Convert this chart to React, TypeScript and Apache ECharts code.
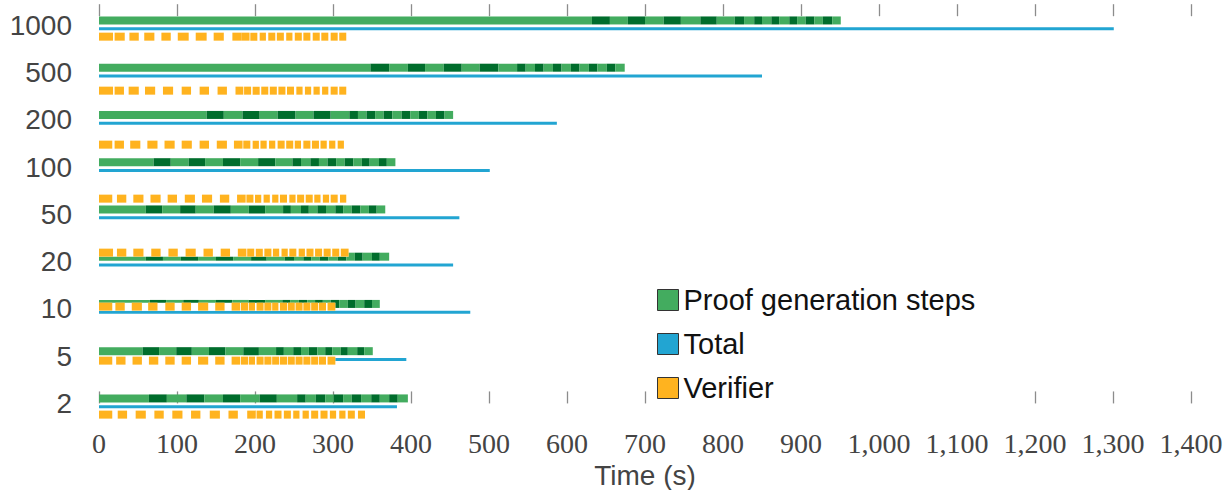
import React, { useEffect, useRef } from "react";
import * as echarts from "echarts";

// Categories (bottom to top)
const categories = ["2", "5", "10", "20", "50", "100", "200", "500", "1000"];

// Proof generation: end time (s) of each step, first step starts at 0
const steps2 = [64, 87, 112, 135, 159, 181, 206, 228, 254, 265, 278, 290, 301, 313, 324, 336, 349, 360, 372, 383, 396];
const steps5 = [56, 77, 99, 119, 141, 162, 185, 205, 227, 237, 249, 259, 269, 280, 290, 299, 310, 319, 331, 340, 351];
const steps10 = [65, 86, 108, 128, 150, 171, 192, 213, 235, 245, 256, 267, 277, 287, 297, 308, 319, 329, 340, 350, 360];
const steps20 = [60, 82, 105, 127, 150, 172, 195, 215, 238, 250, 262, 272, 283, 294, 306, 317, 328, 338, 350, 360, 372];
const steps50 = [60, 81, 104, 124, 147, 169, 192, 213, 236, 246, 259, 269, 280, 291, 303, 313, 324, 335, 346, 356, 367];
const steps100 = [70, 92, 115, 136, 159, 181, 204, 226, 248, 259, 271, 282, 293, 304, 315, 326, 337, 347, 359, 369, 380];
const steps200 = [138, 160, 184, 206, 229, 252, 275, 297, 321, 332, 343, 354, 365, 376, 388, 399, 410, 421, 432, 443, 454];
const steps500 = [348, 372, 396, 418, 442, 465, 488, 512, 536, 547, 559, 570, 582, 593, 605, 616, 628, 639, 651, 662, 674];
const steps1000 = [632, 655, 678, 700, 724, 746, 771, 792, 815, 827, 840, 850, 862, 872, 885, 895, 906, 917, 928, 940, 951];
const proofSteps = [steps2, steps5, steps10, steps20, steps50, steps100, steps200, steps500, steps1000];

// Total time (s)
const totals = [382, 394, 476, 454, 462, 501, 587, 850, 1301];

// Verifier: [start, end] (s) of each verifier step, 8 rows bottom to top
const verifierH = [[0, 17], [24, 36], [47, 60], [71, 83], [94, 107], [118, 130], [142, 155], [166, 178], [190, 201], [202, 210], [214, 222], [225, 234], [237, 246], [249, 257], [261, 269], [272, 281], [284, 293], [296, 304], [308, 316], [319, 328], [332, 341]];
const verifierG = [[0, 17], [22, 34], [43, 55], [64, 76], [85, 97], [106, 118], [127, 140], [149, 161], [170, 181], [182, 191], [192, 200], [202, 211], [212, 221], [222, 231], [232, 241], [242, 251], [252, 261], [262, 271], [272, 281], [282, 291], [293, 303]];
const verifierF = [[0, 17], [21, 33], [42, 55], [63, 75], [85, 97], [106, 118], [127, 140], [149, 161], [170, 181], [182, 191], [192, 200], [202, 211], [212, 221], [222, 230], [232, 241], [242, 251], [252, 261], [262, 271], [272, 281], [282, 291], [293, 303]];
const verifierE = [[0, 18], [23, 35], [44, 57], [67, 79], [89, 101], [111, 124], [134, 146], [156, 168], [178, 189], [190, 199], [201, 210], [212, 221], [223, 231], [234, 242], [244, 253], [256, 264], [266, 275], [277, 286], [288, 297], [299, 308], [310, 320]];
const verifierD = [[0, 17], [23, 35], [44, 57], [66, 79], [88, 100], [110, 123], [132, 145], [155, 167], [177, 188], [189, 198], [200, 208], [211, 219], [222, 230], [232, 241], [244, 252], [254, 263], [265, 274], [276, 284], [287, 295], [297, 306], [309, 317]];
const verifierC = [[0, 17], [20, 32], [40, 53], [62, 75], [84, 97], [106, 119], [129, 141], [151, 164], [173, 184], [185, 194], [197, 205], [207, 215], [218, 226], [229, 238], [240, 249], [251, 259], [262, 271], [273, 282], [284, 292], [295, 303], [306, 314]];
const verifierB = [[0, 18], [20, 32], [38, 51], [59, 72], [82, 95], [106, 118], [129, 141], [152, 164], [175, 185], [186, 195], [197, 206], [208, 217], [219, 228], [230, 239], [241, 250], [253, 261], [264, 272], [275, 283], [286, 294], [297, 306], [308, 317]];
const verifierA = [[0, 18], [20, 33], [39, 51], [58, 71], [80, 92], [101, 115], [124, 138], [147, 160], [171, 183], [183, 193], [194, 203], [206, 214], [217, 226], [228, 237], [240, 248], [251, 260], [262, 271], [274, 283], [285, 294], [297, 306], [308, 317]];
const verifierRows = [verifierH, verifierG, verifierF, verifierE, verifierD, verifierC, verifierB, verifierA];

const seriesNames = ["Proof generation steps", "Total", "Verifier"];

// Layout constants
const GREEN_OFF = 0.106;
const BLUE_OFF = -0.068;
const VER_BASE = -0.237;
const VER_STEP = 8 / 7;
const LIGHT_GREEN = "#43ac5f";
const DARK_GREEN = "#006d2c";
const BLUE = "#22a5d2";
const ORANGE = "#ffb31f";

function rectItem(h: number, colorFn: (api: any) => string) {
  return (params: any, api: any) => {
    const y = api.value(2);
    const s = api.coord([api.value(0), y]);
    const e = api.coord([api.value(1), y]);
    return {
      type: "rect",
      shape: { x: s[0], y: s[1] - h / 2, width: e[0] - s[0], height: h },
      style: { fill: colorFn(api) },
    };
  };
}

export default function App() {
  const ref = useRef<HTMLDivElement>(null);

  useEffect(() => {
    if (!ref.current) return;
    const chart = echarts.init(ref.current, undefined, { renderer: "svg" });

    const greenData: number[][] = [];
    proofSteps.forEach((ends, row) => {
      let start = 0;
      ends.forEach((end, k) => {
        greenData.push([start, end, row + GREEN_OFF, k % 2]);
        start = end;
      });
    });
    const blueData = totals.map((t, row) => [0, t, row + BLUE_OFF]);
    const whiteData = verifierRows.map((segs, k) => [0, segs[segs.length - 1][1], VER_BASE + k * VER_STEP]);
    const orangeData: number[][] = [];
    verifierRows.forEach((segs, k) => {
      segs.forEach(([a, b]) => orangeData.push([a, b, VER_BASE + k * VER_STEP]));
    });

    const tickStyle = { color: "#8c8c8c", width: 1.3 };
    const option: any = {
      animation: false,
      grid: {
        left: 99,
        right: 32,
        top: 4.2,
        height: 413.4,
        containLabel: false,
        outerBoundsMode: "none",
      },
      xAxis: [
        {
          type: "value",
          min: 0,
          max: 1400,
          interval: 100,
          position: "bottom",
          name: "Time (s)",
          nameLocation: "middle",
          nameGap: 44,
          nameMoveOverlap: false,
          nameTextStyle: { fontFamily: "Liberation Sans", fontSize: 28, color: "#444" },
          axisLine: { show: false },
          axisTick: { show: true, inside: true, length: 12, lineStyle: tickStyle },
          splitLine: { show: false },
          axisLabel: {
            fontFamily: "Liberation Serif",
            fontSize: 28,
            color: "#444",
            margin: 12,
            formatter: (v: number) => v.toLocaleString("en-US"),
          },
        },
        {
          type: "value",
          min: 0,
          max: 1400,
          interval: 100,
          position: "top",
          axisLine: { show: false },
          axisTick: { show: true, inside: true, length: 12, lineStyle: tickStyle },
          splitLine: { show: false },
          axisLabel: { show: false },
        },
      ],
      yAxis: {
        type: "value",
        min: -0.3,
        max: 8.45,
        axisLine: { show: false },
        axisTick: { show: false },
        splitLine: { show: false },
        axisLabel: {
          customValues: categories.map((_, i) => i),
          formatter: (v: number) => categories[Math.round(v)] ?? "",
          fontFamily: "Liberation Sans",
          fontSize: 28,
          color: "#444",
          margin: 27,
        },
      },
      legend: {
        orient: "vertical",
        left: 649,
        top: 279,
        padding: [6, 10, 14, 8],
        backgroundColor: "#ffffff",
        icon: "rect",
        itemWidth: 21,
        itemHeight: 21,
        itemGap: 14,
        selectedMode: false,
        itemStyle: { borderColor: "#333", borderWidth: 1 },
        textStyle: { fontFamily: "Liberation Sans", fontSize: 29, color: "#111", lineHeight: 30 },
        data: seriesNames,
      },
      series: [
        {
          name: seriesNames[0],
          type: "custom",
          itemStyle: { color: LIGHT_GREEN },
          encode: { x: [0, 1], y: 2 },
          data: greenData,
          renderItem: rectItem(8, (api) => (api.value(3) === 1 ? DARK_GREEN : LIGHT_GREEN)),
        },
        {
          name: seriesNames[1],
          type: "custom",
          itemStyle: { color: BLUE },
          encode: { x: [0, 1], y: 2 },
          data: blueData,
          renderItem: rectItem(3, () => BLUE),
        },
        {
          name: "verifier-gaps",
          type: "custom",
          encode: { x: [0, 1], y: 2 },
          data: whiteData,
          renderItem: rectItem(8, () => "#ffffff"),
        },
        {
          name: seriesNames[2],
          type: "custom",
          itemStyle: { color: ORANGE },
          encode: { x: [0, 1], y: 2 },
          data: orangeData,
          renderItem: rectItem(8, () => ORANGE),
        },
      ],
    };
    chart.setOption(option);
    return () => chart.dispose();
  }, []);

  return (
    <div
      ref={ref}
      style={{ position: "absolute", left: 0, top: 0, width: 1223, height: 490, background: "#fff" }}
    />
  );
}
